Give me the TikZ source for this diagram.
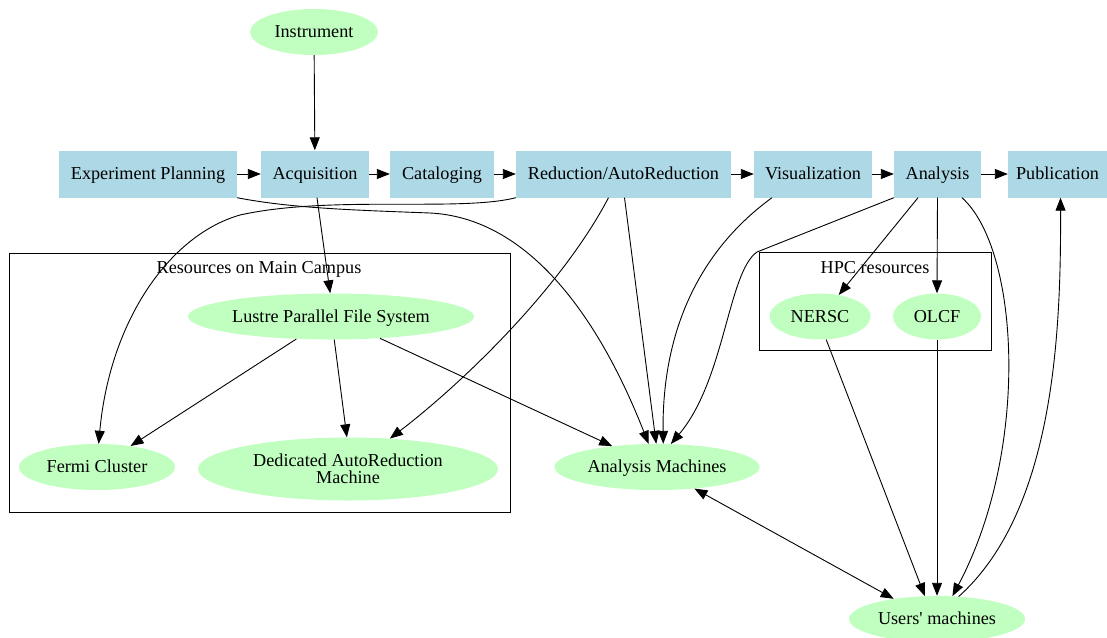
\documentclass[tikz,border=0pt]{standalone}
\usepackage{fontspec}
\setmainfont{Liberation Serif}[Ligatures=TeXOff]
\usetikzlibrary{arrows.meta,shapes.geometric}
\definecolor{boxblue}{HTML}{ADD8E6}
\definecolor{ellgreen}{HTML}{C1FFC1}
\tikzset{
  stepbox/.style={rectangle, fill=boxblue, inner sep=0pt, minimum height=47pt, text height=13.5pt, text depth=2.5pt, font=\fontsize{18.2}{20}\selectfont},
  res/.style={ellipse, fill=ellgreen, inner sep=0pt, minimum height=46pt, font=\fontsize{18.2}{20}\selectfont},
  onel/.style={text height=13.5pt, text depth=2.5pt},
  cluster/.style={draw=black, line width=0.8pt},
  clabel/.style={font=\fontsize{18.2}{20}\selectfont, text height=13.5pt, text depth=2.5pt},
  edge/.style={draw=black, line width=0.9pt, -{Triangle[length=13pt,width=10pt]}},
  bedge/.style={draw=black, line width=0.9pt, {Triangle[length=13pt,width=10pt]}-{Triangle[length=13pt,width=10pt]}}
}
\begin{document}
\begin{tikzpicture}[x=1pt,y=-1pt]
\useasboundingbox[fill=white] (0,0) rectangle (1107,637);
% clusters
\draw[cluster] (9,253) rectangle (510,512);
\node[clabel] (cl1) at (259,268) {Resources on Main Campus};
\draw[cluster] (759,252) rectangle (991,350);
\node[clabel] (cl2) at (875,268) {HPC resources};
% top row
\node[res, onel, minimum width=128pt] (ins) at (314,32) {Instrument};
\node[stepbox, minimum width=178pt] (ep) at (148,174) {Experiment Planning};
\node[stepbox, minimum width=108pt] (acq) at (315,174) {Acquisition};
\node[stepbox, minimum width=104pt] (cat) at (442,174) {Cataloging};
\node[stepbox, minimum width=215pt] (red) at (623.5,174) {Reduction/AutoReduction};
\node[stepbox, minimum width=118pt] (vis) at (813,174) {Visualization};
\node[stepbox, minimum width=87pt] (ana) at (937.5,174) {Analysis};
\node[stepbox, minimum width=99pt] (pub) at (1057.5,174) {Publication};
% resources
\node[res, onel, minimum width=286pt] (lus) at (331,316.5) {Lustre Parallel File System};
\node[res, onel, minimum width=156pt] (fer) at (97,467) {Fermi Cluster};
\node[res, minimum width=300pt, minimum height=63pt, align=center] (ded) at (348,469) {Dedicated AutoReduction\\[-3pt]Machine};
\node[res, onel, minimum width=205pt] (am) at (657,467) {Analysis Machines};
\node[res, onel, minimum width=101pt] (ner) at (820,316.5) {NERSC};
\node[res, onel, minimum width=88pt] (olc) at (937,316.5) {OLCF};
\node[res, onel, minimum width=176pt] (usr) at (937,619) {Users' machines};
% pipeline edges
\draw[edge] (ins) -- (acq);
\draw[edge] (ep) -- (acq);
\draw[edge] (acq) -- (cat);
\draw[edge] (cat) -- (red);
\draw[edge] (red) -- (vis);
\draw[edge] (vis) -- (ana);
\draw[edge] (ana) -- (pub);
% curved edges
\draw[edge] (ep.south east) .. controls (290,208) and (350,210) .. (430,213) .. controls (530,218) and (600,320) .. (am.110);
\draw[edge] (red.south west) .. controls (460,212) and (330,195) .. (240,215) .. controls (170,235) and (110,320) .. (fer.86);
\draw[edge] ([xshift=2pt]acq.south) -- (lus.92);
\draw[edge] ([xshift=-15pt]red.south) .. controls (560,290) and (460,385) .. (ded.36);
\draw[edge] ([xshift=1pt]red.south) -- (am.92);
\draw[edge] ([xshift=-41pt]vis.south) .. controls (700,250) and (662,330) .. (am.75);
\draw[edge] (ana.south west) -- (757,252) .. controls (728,272) and (725,380) .. (am.59);
\draw[edge] ([xshift=-19.5pt]ana.south) -- (ner.49);
\draw[edge] (ana.south) -- (olc.north);
\draw[edge] ([xshift=24.5pt]ana.south) .. controls (1020,250) and (1030,450) .. (usr.56);
\draw[edge] (usr.46) .. controls (1055,510) and (1061,330) .. ([xshift=3pt]pub.south);
\draw[edge] (lus.213) -- (fer.32);
\draw[edge] (lus.278) -- (ded.92);
\draw[edge] (lus.336) -- (am.155);
\draw[edge] (ner.285) -- (usr.118);
\draw[edge] (olc.south) -- (usr.north);
\draw[bedge] (am.330) -- (usr.155);
\end{tikzpicture}
\end{document}
